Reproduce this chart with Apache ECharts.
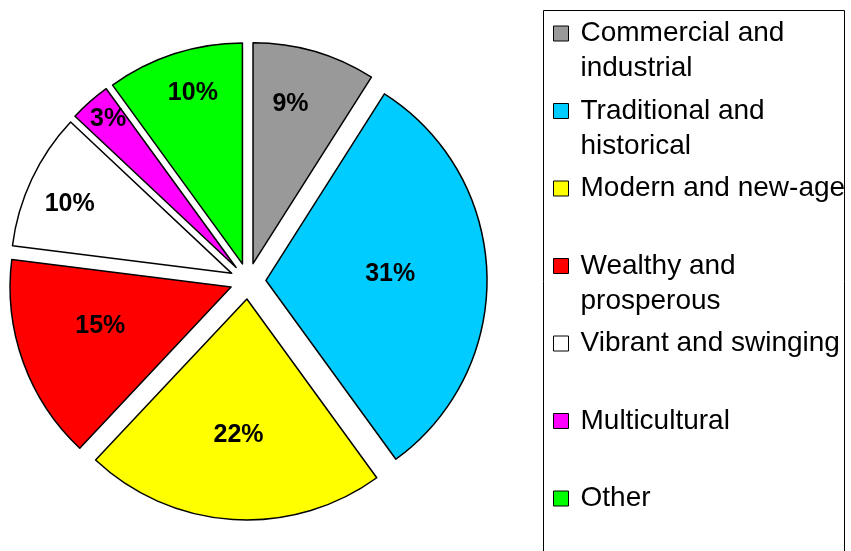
<!DOCTYPE html>
<html>
<head>
<meta charset="utf-8">
<script src="https://cdn.jsdelivr.net/npm/echarts@6/dist/echarts.min.js"></script>
<style>html,body{margin:0;padding:0;background:#fff}#c{width:851px;height:551px}</style>
</head>
<body>
<div id="c"></div>
<script>
const categories = ["Commercial and industrial", "Traditional and historical", "Modern and new-age", "Wealthy and prosperous", "Vibrant and swinging", "Multicultural", "Other"];
const values = [9, 31, 22, 15, 10, 3, 10];
const legendLabels = ["Commercial and\nindustrial", "Traditional and\nhistorical", "Modern and new-age\n ", "Wealthy and\nprosperous", "Vibrant and swinging\n ", "Multicultural\n ", "Other\n "];
const colors = ["#999999", "#00CCFF", "#FFFF00", "#FF0000", "#FFFFFF", "#FF00FF", "#00FF00"];
// label placement style: fraction of radius, and fraction of the slice's angular span
const labelRadiusFrac = [0.74, 0.55, 0.59, 0.60, 0.79, 0.885, 0.806];
const labelAngleFrac = [0.40, 0.476, 0.50, 0.585, 0.47, 0.62, 0.56];

const R = 221;
const total = values.reduce((a, b) => a + b, 0);
const startA = [], spanA = [];
let acc = 0;
values.forEach(v => { startA.push(acc / total * 2 * Math.PI); spanA.push(v / total * 2 * Math.PI); acc += v; });

const chart = echarts.init(document.getElementById('c'), null, {renderer: 'canvas'});
chart.setOption({
  animation: false,
  backgroundColor: '#fff',
  graphic: [{
    type: 'rect', z: 0,
    shape: {x: 543.5, y: 10.5, width: 301, height: 560},
    style: {fill: 'none', stroke: '#000', lineWidth: 1}
  }],
  legend: {
    orient: 'vertical', left: 553, top: 16, padding: 0, itemGap: 7.5,
    selectedMode: false,
    itemWidth: 22, itemHeight: 50,
    icon: 'path://M0,0H15V15H0Z M22,50',
    itemStyle: {borderColor: '#000', borderWidth: 1},
    data: categories,
    formatter: function (name) { return legendLabels[categories.indexOf(name)]; },
    textStyle: {fontFamily: 'Liberation Sans', fontSize: 28, lineHeight: 35, color: '#000'}
  },
  series: [{
    type: 'pie',
    center: [248, 281],
    radius: [0, R],
    startAngle: 90,
    clockwise: true,
    selectedMode: 'multiple',
    selectedOffset: 18,
    avoidLabelOverlap: false,
    emphasis: {disabled: true},
    itemStyle: {borderColor: '#000', borderWidth: 1.5},
    select: {itemStyle: {borderColor: '#000', borderWidth: 1.5}},
    label: {
      show: true, position: 'inside',
      formatter: '{d}%',
      fontFamily: 'Liberation Sans', fontWeight: 'bold', fontSize: 25, color: '#000'
    },
    labelLine: {show: false},
    labelLayout: function (p) {
      const i = p.dataIndex;
      const mid = startA[i] + spanA[i] / 2;
      const a = startA[i] + spanA[i] * labelAngleFrac[i];
      const r = labelRadiusFrac[i] * R;
      return {
        dx: r * Math.sin(a) - (R / 2) * Math.sin(mid),
        dy: -r * Math.cos(a) + (R / 2) * Math.cos(mid) + 3
      };
    },
    data: categories.map((n, i) => ({
      name: n, value: values[i], selected: true,
      itemStyle: {color: colors[i]},
      select: {itemStyle: {color: colors[i]}}
    }))
  }]
});
</script>
</body>
</html>
